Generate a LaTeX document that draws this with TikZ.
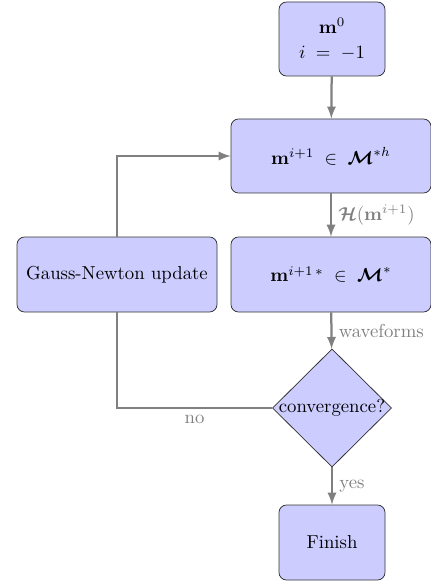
\documentclass[tikz,border=0pt]{standalone}
\usepackage{amsmath,bm}
\usetikzlibrary{shapes.geometric,arrows}
\begin{document}
\begin{tikzpicture}[x=0.5333pt,y=-0.5333pt,
  box/.style={draw=black!80,fill=blue!20,rounded corners=4pt,align=center,inner sep=0pt},
  dia/.style={draw=black!80,fill=blue!20,shape=diamond,aspect=1,inner sep=0pt,minimum width=63.5pt,minimum height=63pt},
  flow/.style={draw=gray,line width=1.2pt,-latex},
  plain/.style={draw=gray,line width=1.2pt},
  lab/.style={text=gray,font=\normalsize}]
\useasboundingbox (0,0) rectangle (430,585);
\node[box,minimum width=106*0.5333pt,minimum height=74*0.5333pt] (m0) at (332,39) {$\mathbf{m}^0$\\[1pt]$i\;=\;-1$};
\node[box,minimum width=200*0.5333pt,minimum height=74*0.5333pt] (mh) at (331,156) {$\mathbf{m}^{i+1}\;\in\;\bm{\mathcal{M}}^{*h}$};
\node[box,minimum width=200*0.5333pt,minimum height=75*0.5333pt] (gn) at (117,274.5) {Gauss-Newton update};
\node[box,minimum width=200*0.5333pt,minimum height=75*0.5333pt] (ms) at (331,274.5) {$\mathbf{m}^{i+1\,*}\;\in\;\bm{\mathcal{M}}^{*}$};
\node[dia] (cv) at (332,408) {\makebox[52pt]{convergence?}};
\node[box,minimum width=106*0.5333pt,minimum height=75*0.5333pt] (fin) at (332,542.5) {Finish};
\draw[flow] (m0) -- (mh);
\draw[flow] (mh) -- node[lab,right] {$\bm{\mathcal{H}}(\mathbf{m}^{i+1})$} (ms);
\draw[flow] (ms) -- node[lab,right] {waveforms} (cv);
\draw[flow] (cv) -- node[lab,right] {yes} (fin);
\draw[flow] (gn.north) |- (mh.west);
\draw[plain] (cv.west) -| node[lab,below,pos=0.25] {no} (gn.south);
\end{tikzpicture}
\end{document}
